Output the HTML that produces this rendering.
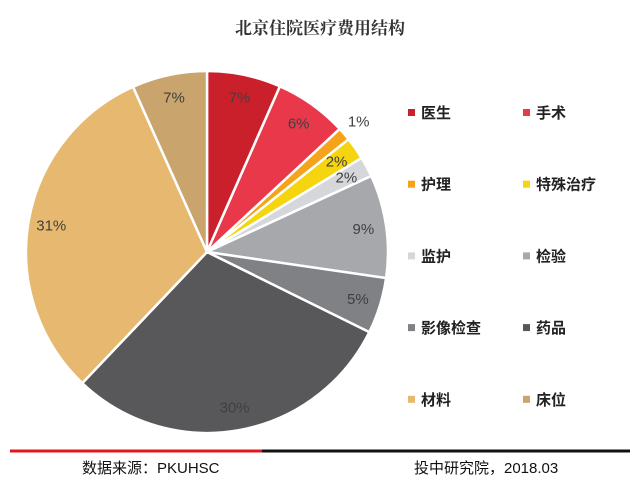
<!DOCTYPE html>
<html><head><meta charset="utf-8"><style>
body{margin:0;background:#fff;width:640px;height:492px;overflow:hidden;font-family:"Liberation Sans","Noto Sans CJK SC",sans-serif;}
</style></head><body>
<svg width="640" height="492" xmlns="http://www.w3.org/2000/svg">
<text x="320" y="34" text-anchor="middle" font-family="'Liberation Serif','Noto Serif CJK SC',serif" font-weight="bold" font-size="17" fill="#333">北京住院医疗费用结构</text>
<g id="slices"></g><g id="labels"></g><g id="legend"></g>
<line x1="10" y1="451" x2="262" y2="451" stroke="#e8141c" stroke-width="3"/>
<line x1="262" y1="451" x2="630" y2="451" stroke="#111" stroke-width="3"/>
<text x="82" y="473" font-size="15" fill="#111">数据来源：PKUHSC</text>
<text x="414" y="473" font-size="15" fill="#111">投中研究院，2018.03</text>
</svg>
<script>
const categories=["医生","手术","护理","特殊治疗","监护","检验","影像检查","药品","材料","床位"];
const values=[6.6,6.5,1.2,2.0,1.8,9.2,5.0,29.8,31.2,6.7];
const valueLabels=["7%","6%","1%","2%","2%","9%","5%","30%","31%","7%"];
const colors=["#c9202b","#e8384a","#f5a31a","#f5d410","#d5d7da","#a6a8ab","#808185","#58585a","#e6b870","#c9a46d"];
const NS="http://www.w3.org/2000/svg";
const cx=207,cy=252,R=181;
const total=values.reduce((a,b)=>a+b,0);
const gS=document.getElementById('slices'),gL=document.getElementById('labels'),gG=document.getElementById('legend');
function pt(a,r){return [cx+r*Math.sin(a),cy-r*Math.cos(a)];}
let acc=0;
values.forEach((v,i)=>{
  const a0=acc/total*2*Math.PI;acc+=v;const a1=acc/total*2*Math.PI;
  const p0=pt(a0,R),p1=pt(a1,R);const large=(a1-a0)>Math.PI?1:0;
  const p=document.createElementNS(NS,'path');
  p.setAttribute('d',`M${cx},${cy}L${p0[0]},${p0[1]}A${R},${R} 0 ${large} 1 ${p1[0]},${p1[1]}Z`);
  p.setAttribute('fill',colors[i]);p.setAttribute('stroke','#fff');p.setAttribute('stroke-width','2.5');
  
  
  gS.appendChild(p);
  const am=(a0+a1)/2;const lp=pt(am,v/total<0.015?200:158);
  const t=document.createElementNS(NS,'text');
  t.setAttribute('x',lp[0]);t.setAttribute('y',lp[1]+5);t.setAttribute('text-anchor','middle');
  t.setAttribute('font-size','15');t.setAttribute('fill','#404040');t.textContent=valueLabels[i];
  
  
  gL.appendChild(t);
});
categories.forEach((c,i)=>{
  const col=i%2,row=Math.floor(i/2);
  const x=col?523:408,y=113+row*71.7;
  const g=document.createElementNS(NS,'g');
  
  
  const r=document.createElementNS(NS,'rect');
  r.setAttribute('x',x);r.setAttribute('y',y-4);r.setAttribute('width',7);r.setAttribute('height',7);r.setAttribute('fill',colors[i]);
  const t=document.createElementNS(NS,'text');
  t.setAttribute('x',x+13);t.setAttribute('y',y+5);t.setAttribute('font-size','15');t.setAttribute('font-weight','bold');t.setAttribute('fill','#222');
  t.textContent=c;
  g.appendChild(r);g.appendChild(t);gG.appendChild(g);
});
</script>
</body></html>
